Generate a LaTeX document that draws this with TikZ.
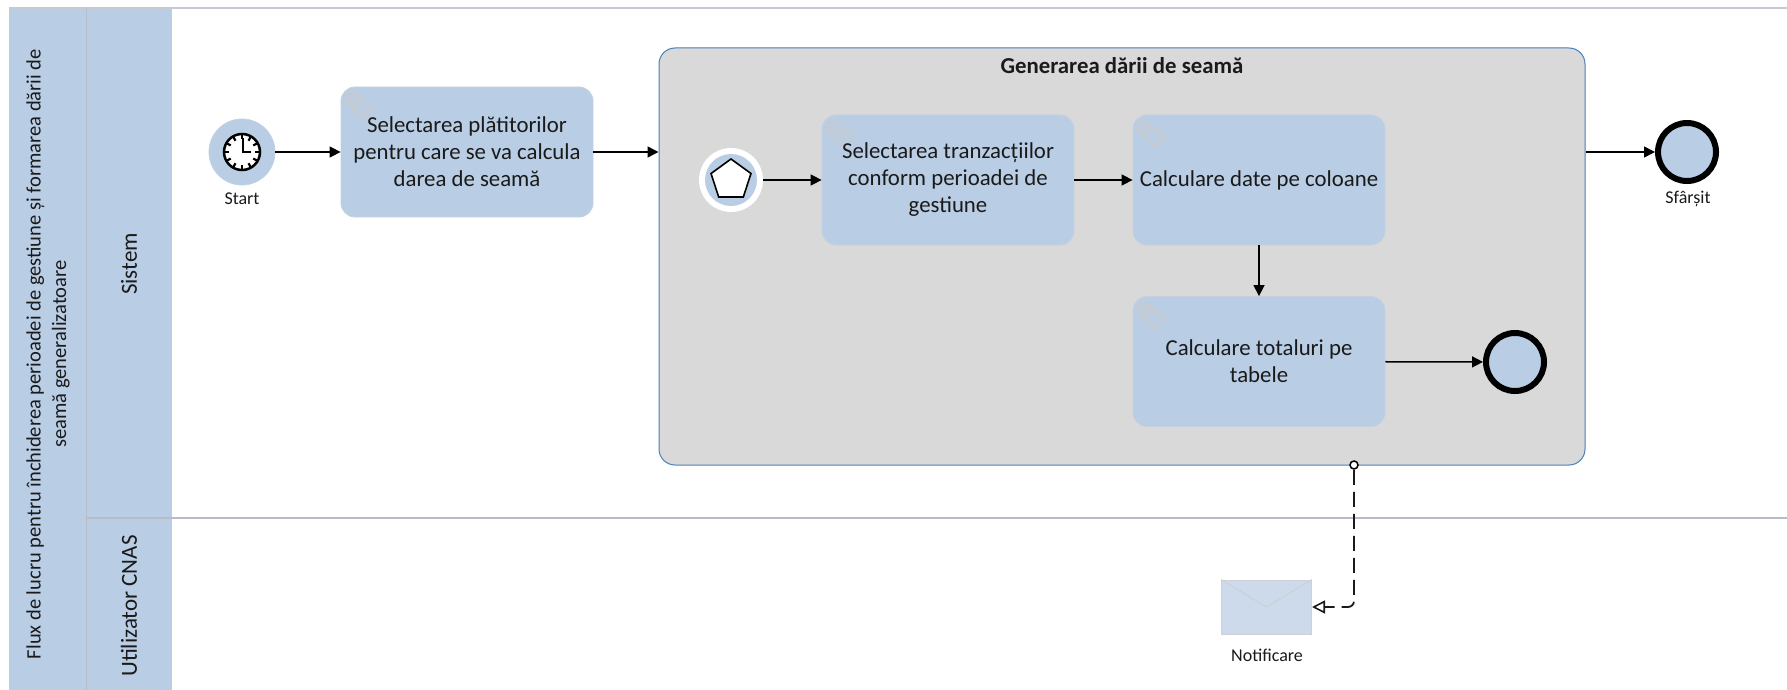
\documentclass[tikz,border=0pt]{standalone}
\usepackage{fontspec}
\setmainfont{Carlito}
\usetikzlibrary{arrows.meta,shapes.geometric}
\definecolor{bpblue}{HTML}{B9CDE5}
\definecolor{bpedge}{HTML}{C6D0DE}
\definecolor{subfill}{HTML}{D9D9D9}
\definecolor{subedge}{HTML}{4A7EBB}
\definecolor{laneline}{HTML}{B8BCC6}
\definecolor{inkc}{HTML}{1A1A1A}
\definecolor{gearc}{HTML}{CBC9C8}
\definecolor{envfill}{HTML}{CCDAEC}
\definecolor{envedge}{HTML}{CDD0D4}
\tikzset{
  x=1pt,y=-1pt,
  every node/.style={text=inkc},
  bigtext/.style={font=\fontsize{22.8}{27}\selectfont,align=center},
  smalltext/.style={font=\fontsize{18}{20}\selectfont,align=center},
  pooltext/.style={font=\fontsize{20.5}{25.5}\selectfont,align=center,rotate=90},
  lanetext/.style={font=\fontsize{23}{27}\selectfont,align=center,rotate=90},
  taskbox/.style={draw=bpedge,line width=0.8pt,fill=bpblue,rounded corners=14pt,minimum width=252pt,minimum height=130pt,inner sep=0pt},
  flow/.style={draw=black,line width=1.5pt,-{Triangle[length=11pt,width=11pt]}},
  assoc/.style={draw=inkc,line width=1.8pt,dash pattern=on 15pt off 7pt,rounded corners=6pt,-{Triangle[open,length=13pt,width=13pt,line width=1.6pt]}},
  laneband/.style={fill=bpblue,draw=none},
  gearicon/.pic={
    \foreach \cx/\cy/\r in {-7/-6/6,3/3/8.5}{
      \draw[gearc,line width=1pt,fill=bpblue] (\cx,\cy) circle[radius=\r];
      \draw[gearc,line width=1pt] (\cx,\cy) circle[radius=0.45*\r];
      \foreach \a in {0,45,...,315}
        \draw[gearc,line width=2pt] (\cx,\cy) ++(\a:\r) -- ++(\a:2.2);
    }
  },
}
\begin{document}
\begin{tikzpicture}
\useasboundingbox (0,0) rectangle (1787,690);
% pool and lanes
\path[laneband] (9,9) rectangle (172,690);
\coordinate (topL) at (9,8.5);
\coordinate (topR) at (1787,8.5);
\draw[laneline!80,line width=2pt] (topL) -- (topR);
\coordinate (colT) at (86.5,9);
\coordinate (colB) at (86.5,690);
\draw[laneline,line width=1pt] (colT) -- (colB);
\coordinate (divL) at (86.5,518);
\coordinate (divR) at (1787,518);
\draw[laneline,line width=1.5pt] (divL) -- (divR);
\node[pooltext] (pool) at (48,354) {Flux de lucru pentru închiderea perioadei de gestiune și formarea dării de\\seamă generalizatoare};
\node[lanetext] (sistem) at (129,264) {Sistem};
\node[lanetext] (cnas) at (129,606) {Utilizator CNAS};
% subprocess
\node[draw=subedge,line width=1pt,fill=subfill,rounded corners=16pt,minimum width=926pt,minimum height=417pt,inner sep=0pt] (sub) at (1122,256.5) {};
\node[font=\bfseries\fontsize{22.8}{27}\selectfont] (subtitle) at (1122,66) {Generarea dării de seamă};
% start
\node[circle,fill=bpblue,draw=bpedge,line width=0.8pt,minimum size=66pt,inner sep=0pt] (start) at (242,152) {};
\node[circle,draw=black,fill=white,line width=2.5pt,minimum size=36pt,inner sep=0pt] (clock) at (242,152) {};
\foreach \a in {0,30,...,330}
  \draw[black,line width=2.2pt] (clock.center) ++(\a:18) -- ++(\a:-5);
\coordinate (hourtip) at (243,138);
\coordinate (hubpt) at (243,152);
\coordinate (mintip) at (251,152);
\draw[black,line width=2.5pt,line join=miter] (hourtip) -- (hubpt) -- (mintip);
\node[smalltext] (startlabel) at (242,199) {Start};
% tasks
\node[taskbox] (t1) at (467,152) {};
\node[taskbox] (t2) at (948,180) {};
\node[taskbox] (t3) at (1259,180) {};
\node[taskbox] (t4) at (1259,361.5) {};
\path (t1.north west) ++(19,19) pic {gearicon};
\path (t2.north west) ++(19,19) pic {gearicon};
\path (t3.north west) ++(19,19) pic {gearicon};
\path (t4.north west) ++(19,19) pic {gearicon};
\node[bigtext] (t1text) at (t1.center) {Selectarea plătitorilor\\pentru care se va calcula\\darea de seamă};
\node[bigtext] (t2text) at (t2.center) {Selectarea tranzacțiilor\\conform perioadei de\\gestiune};
\node[bigtext] (t3text) at (t3.center) {Calculare date pe coloane};
\node[bigtext] (t4text) at (t4.center) {Calculare totaluri pe\\tabele};
% inner start
\node[circle,fill=white,minimum size=64pt,inner sep=0pt] (istartring) at (731,180) {};
\node[circle,fill=bpblue,minimum size=52pt,inner sep=0pt] (istart) at (731,180) {};
\node[regular polygon,regular polygon sides=5,draw=black,fill=white,line width=1.6pt,minimum size=42pt,inner sep=0pt] (penta) at (731,180) {};
% ends
\node[circle,draw=black,fill=bpblue,line width=6pt,minimum size=58pt,inner sep=0pt] (iend) at (1515,362) {};
\node[circle,draw=black,fill=bpblue,line width=6pt,minimum size=58pt,inner sep=0pt] (end) at (1687,152) {};
\node[smalltext] (endlabel) at (1688,199) {Sfârșit};
% envelope
\node[draw=envedge,line width=1pt,fill=envfill,minimum width=90pt,minimum height=54pt,inner sep=0pt] (env) at (1266.5,607) {};
\draw[envedge,line width=1pt] (env.north west) -- (env.center) -- (env.north east);
\node[smalltext] (envlabel) at (1267,655) {Notificare};
% connectors
\draw[flow] (start) -- (t1);
\draw[flow] (t1.east) -- (sub.west |- t1.east);
\coordinate (subout) at (sub.east |- end);
\draw[flow] (subout) -- (end);
\draw[flow] (istartring) -- (t2);
\draw[flow] (t2) -- (t3);
\draw[flow] (t3) -- (t4);
\draw[flow] (t4) -- (iend);
\node[circle,draw=black,fill=white,line width=1.5pt,minimum size=8pt,inner sep=0pt] (origin) at (1354,465) {};
\draw[assoc] (origin) |- (env.east);
\end{tikzpicture}
\end{document}
